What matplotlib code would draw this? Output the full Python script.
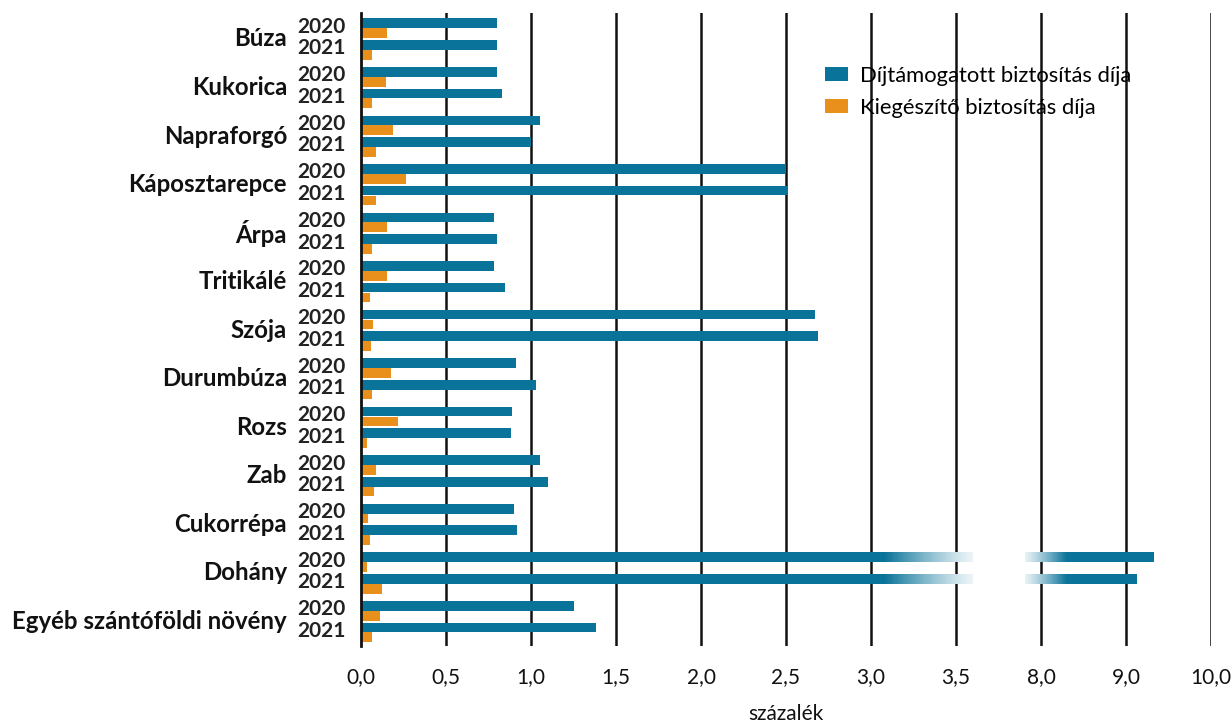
import numpy as np
import matplotlib
matplotlib.use("Agg")
import matplotlib.pyplot as plt
from matplotlib.patches import Patch
from matplotlib.colors import to_rgb
from matplotlib.transforms import blended_transform_factory

# ---------------- data ----------------
crops = ["Búza", "Kukorica", "Napraforgó", "Káposztarepce", "Árpa", "Tritikálé",
         "Szója", "Durumbúza", "Rozs", "Zab", "Cukorrépa", "Dohány",
         "Egyéb szántóföldi növény"]
years = ["2020", "2021"]
subsidised_2020 = [0.80, 0.80, 1.05, 2.50, 0.78, 0.78, 2.67, 0.91, 0.89, 1.05, 0.90, 9.33, 1.25]
subsidised_2021 = [0.80, 0.83, 1.00, 2.51, 0.80, 0.845, 2.69, 1.03, 0.88, 1.10, 0.92, 9.13, 1.38]
supplement_2020 = [0.151, 0.147, 0.188, 0.266, 0.155, 0.155, 0.069, 0.176, 0.22, 0.09, 0.039, 0.037, 0.114]
supplement_2021 = [0.067, 0.067, 0.09, 0.088, 0.065, 0.055, 0.059, 0.065, 0.037, 0.076, 0.051, 0.124, 0.063]
tick_values = [0, 0.5, 1.0, 1.5, 2.0, 2.5, 3.0, 3.5, 8.0, 9.0, 10.0]
tick_labels = ["0,0", "0,5", "1,0", "1,5", "2,0", "2,5", "3,0", "3,5", "8,0", "9,0", "10,0"]
series_names = ["Díjtámogatott biztosítás díja", "Kiegészítő biztosítás díja"]
xlabel = "százalék"

# ---------------- style ----------------
TEAL = "#0a7399"
ORANGE = "#e98f1b"
plt.rcParams['font.family'] = ['Lato', 'DejaVu Sans']

# broken axis: linear up to 3.5, compressed 3.5-8, half scale 8-10
def fwd(x):
    x = np.asarray(x, float)
    return np.where(x <= 3.5, x, np.where(x < 8, 3.5 + (x - 3.5) / 9.0, 4.0 + (x - 8) * 0.5))

def inv(t):
    t = np.asarray(t, float)
    return np.where(t <= 3.5, t, np.where(t < 4.0, 3.5 + (t - 3.5) * 9.0, 8 + (t - 4.0) * 2.0))

W, H = 1232, 725
fig = plt.figure(figsize=(W / 100, H / 100), dpi=100)
ax = fig.add_axes([361 / W, 1 - 646 / H, (1211 - 361) / W, (646 - 13) / H])
ax.set_xscale('function', functions=(fwd, inv))

bh = 0.2
off = {"t20": 0.0, "o20": 0.204, "t21": 0.445, "o21": 0.649}
n = len(crops)
base = np.arange(n)

# break region (in transformed axis units)
fade_a, fade_b, gap_c, fade_d = 3.08, 3.60, 3.906, 4.15
NSEG = 50
teal_rgb = np.array(to_rgb(TEAL))

def draw_teal(y, v):
    tv = float(fwd(v))
    if tv <= fade_a:
        ax.barh(y, v, height=bh, color=TEAL, zorder=3, linewidth=0)
        return
    ax.barh(y, float(inv(fade_a)), height=bh, color=TEAL, zorder=3, linewidth=0)
    edges = np.linspace(fade_a, fade_b, NSEG + 1)
    for i in range(NSEG):
        f = 1 - (i + 0.5) / NSEG
        a = 0.08 + 0.92 * f ** 1.2
        c = teal_rgb * a + (1 - a)
        l, r = inv(edges[i]), inv(edges[i + 1] + 0.002)
        ax.barh(y, r - l, left=l, height=bh, color=c, zorder=3, linewidth=0, antialiased=False)
    edges = np.linspace(gap_c, fade_d, NSEG + 1)
    for i in range(NSEG):
        f = (i + 0.5) / NSEG
        a = 0.1 + 0.9 * f ** 1.2
        c = teal_rgb * a + (1 - a)
        l, r = inv(edges[i]), inv(edges[i + 1] + 0.002)
        ax.barh(y, r - l, left=l, height=bh, color=c, zorder=3, linewidth=0, antialiased=False)
    l = float(inv(fade_d))
    ax.barh(y, v - l, left=l, height=bh, color=TEAL, zorder=3, linewidth=0)

for i in range(n):
    draw_teal(base[i] + off["t20"], subsidised_2020[i])
    draw_teal(base[i] + off["t21"], subsidised_2021[i])
ax.barh(base + off["o20"], supplement_2020, height=bh, color=ORANGE, zorder=3, linewidth=0)
ax.barh(base + off["o21"], supplement_2021, height=bh, color=ORANGE, zorder=3, linewidth=0)

ax.set_xlim(0, 10)
ax.set_ylim(12 + off["o21"] + 0.18, -0.212)
ax.set_xticks(tick_values)
ax.set_xticklabels(tick_labels, fontsize=15)
ax.tick_params(axis='x', length=0, pad=15, colors='#111111')
ax.set_yticks([])
for s in ["top", "right", "bottom"]:
    ax.spines[s].set_visible(False)
ax.spines["left"].set_linewidth(2.0)
ax.spines["left"].set_color("#111111")
ax.spines["left"].set_zorder(4)
for tv in tick_values[1:]:
    ax.axvline(tv, color="#111111", linewidth=1.8, zorder=1)

trans = blended_transform_factory(ax.transAxes, ax.transData)
dx_year = -15 / (1211 - 361)
dx_cat = -74 / (1211 - 361)
for i, name in enumerate(crops):
    ax.text(dx_cat, base[i] + 0.3225, name, transform=trans, ha='right', va='center',
            fontsize=17.3, fontweight='bold', color='#111111')
    ax.text(dx_year, base[i] + 0.102 - 0.03, years[0], transform=trans, ha='right', va='center',
            fontsize=15, fontweight='bold', color='#222222')
    ax.text(dx_year, base[i] + 0.547 - 0.03, years[1], transform=trans, ha='right', va='center',
            fontsize=15, fontweight='bold', color='#222222')

fig.text(786 / W, 1 - 714 / H, xlabel, ha='center', va='center', fontsize=15, color='#111111')

handles = [Patch(facecolor=TEAL, edgecolor='none'), Patch(facecolor=ORANGE, edgecolor='none')]
fig.legend(handles, series_names, loc='upper left', bbox_to_anchor=(825 / W, 1 - 66 / H),
           frameon=False, fontsize=15.8, borderpad=0, borderaxespad=0,
           handlelength=1.05, handleheight=0.6, handletextpad=0.55, labelspacing=0.55)

fig.savefig("out.png", dpi=100)
